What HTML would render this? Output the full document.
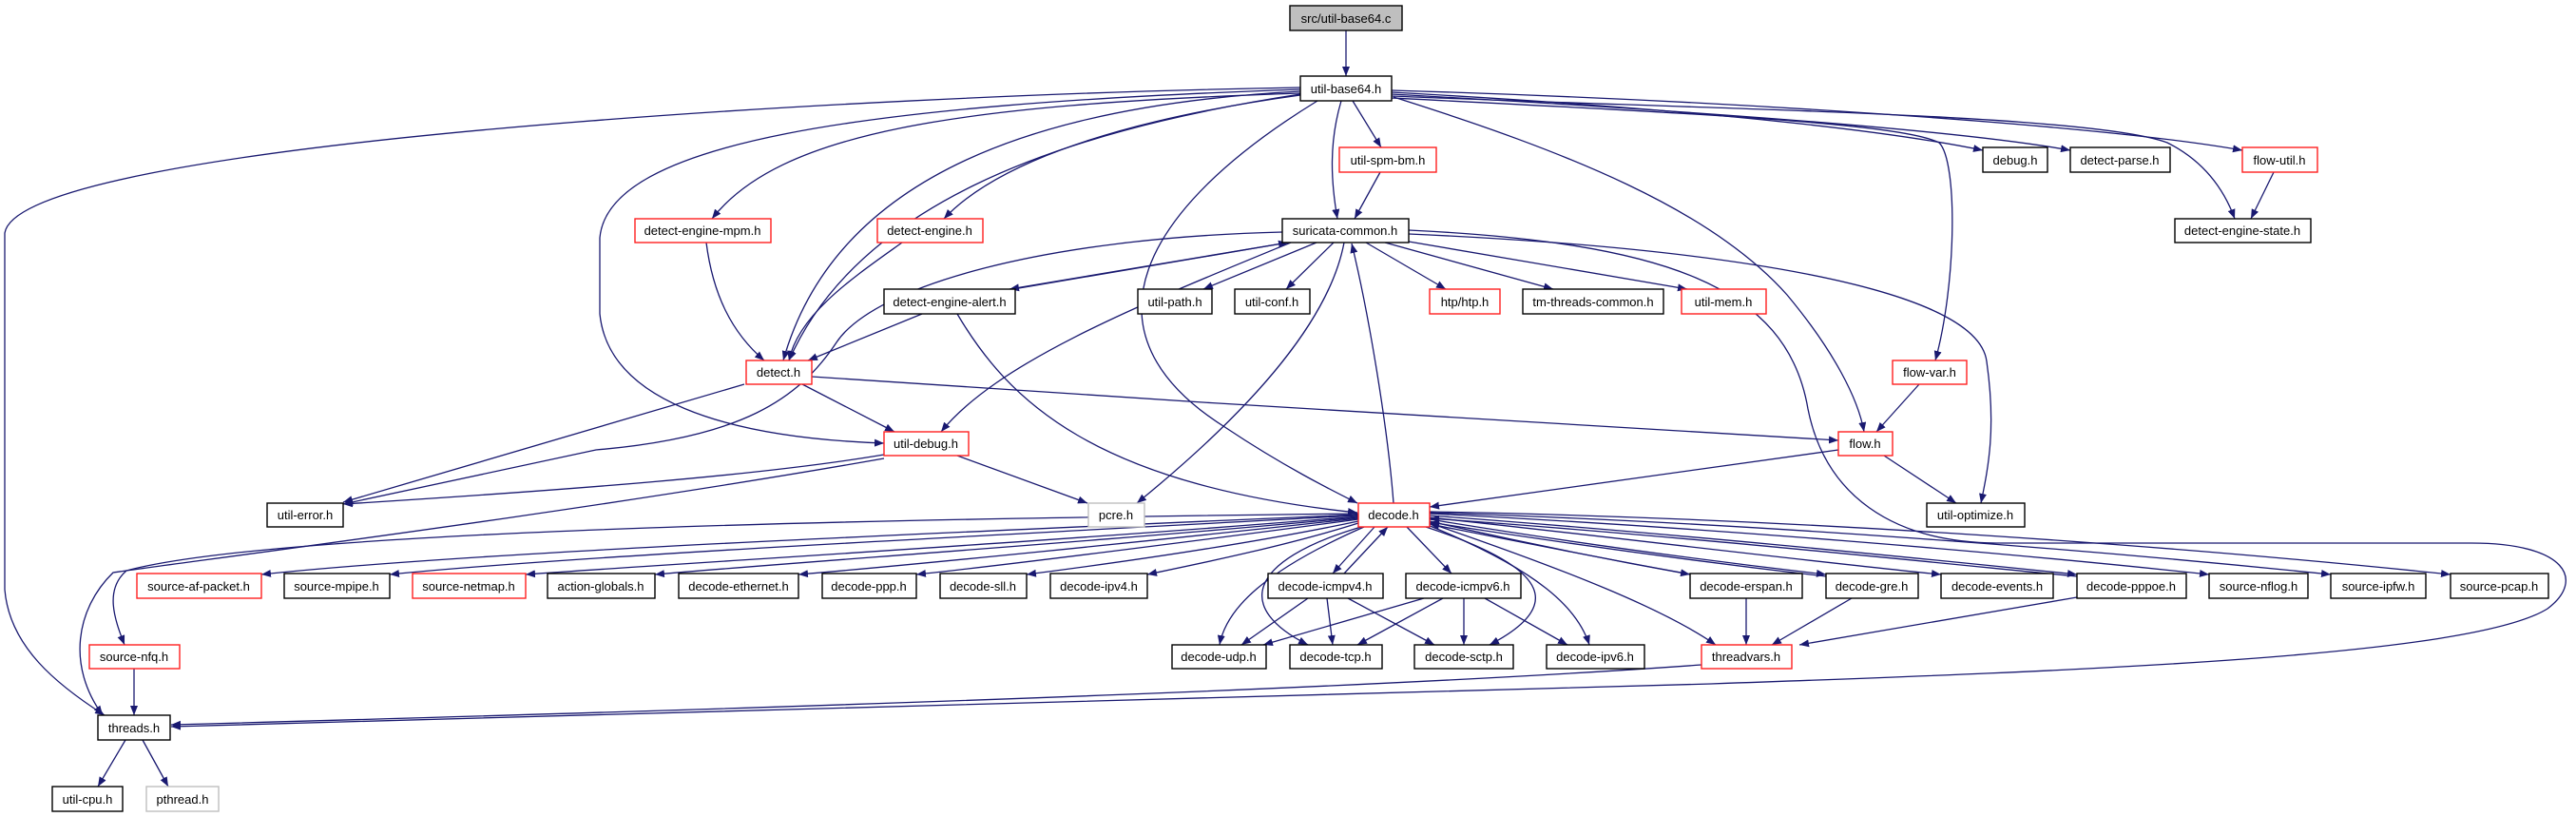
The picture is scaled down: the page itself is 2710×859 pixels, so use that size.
<!DOCTYPE html>
<html><head><meta charset="utf-8"><style>
html,body{margin:0;padding:0;background:#fff;}
svg{display:block;}
text{font-family:"Liberation Sans",sans-serif;font-size:13px;fill:#000;text-anchor:middle;}
.e{fill:none;stroke:#191970;stroke-width:1.3;marker-end:url(#a);}
.n{fill:#fff;stroke:#000;stroke-width:1.4;}
.r{fill:#fff;stroke:#ff2020;stroke-width:1.4;}
.g{fill:#fff;stroke:#bfbfbf;stroke-width:1.4;}
</style></head><body>
<svg width="2710" height="859" viewBox="0 0 2710 859" xmlns="http://www.w3.org/2000/svg">
<defs><marker id="a" markerWidth="11" markerHeight="8" refX="10" refY="4" orient="auto" markerUnits="userSpaceOnUse"><path d="M0,0 L10,4 L0,8 z" fill="#191970"/></marker></defs>
<g>
<path class="e" d="M1416,32 L1416,80"/>
<path class="e" d="M1423,106 L1453,155"/>
<path class="e" d="M1452,181 L1425,230"/>
<path class="e" d="M1411,106 C1398,150 1400,190 1407,230"/>
<path class="e" d="M1386,106 C1200,220 1130,350 1290,450 C1350,490 1400,515 1428,529"/>
<path class="e" d="M1368,100 C1150,130 1040,180 993,230"/>
<path class="e" d="M1368,98 C1000,110 820,140 749,230"/>
<path class="e" d="M1368,96 C1100,110 880,180 824,379"/>
<path class="e" d="M1368,99 C1100,140 900,220 830,379"/>
<path class="e" d="M1368,94 C900,110 640,150 631,250 L631,330 C640,420 760,460 930,466"/>
<path class="e" d="M1368,92 C900,100 20,150 5,245 L5,620 C10,680 60,720 110,752"/>
<path class="e" d="M1464,97 C1700,110 1950,130 2086,158"/>
<path class="e" d="M1464,99 C1750,115 2050,135 2178,158"/>
<path class="e" d="M1464,95 C1800,105 2200,130 2359,158"/>
<path class="e" d="M1464,101 C1800,115 2200,120 2280,150 C2320,170 2340,200 2351,230"/>
<path class="e" d="M1464,103 C1800,120 2000,130 2040,150 C2060,170 2058,300 2036,379"/>
<path class="e" d="M1466,102 C1650,160 1800,220 1880,310 C1930,370 1955,420 1961,454"/>
<path class="e" d="M2392,181 L2368,230"/>
<path class="e" d="M743,255 C750,310 770,350 804,379"/>
<path class="e" d="M949,255 C900,290 840,330 830,379"/>
<path class="e" d="M970,330 L850,379"/>
<path class="e" d="M1355,255 L1062,304"/>
<path class="e" d="M1066,304 L1355,255"/>
<path class="e" d="M1385,255 L1266,304"/>
<path class="e" d="M1403,255 L1353,304"/>
<path class="e" d="M1437,255 L1521,304"/>
<path class="e" d="M1457,255 L1634,304"/>
<path class="e" d="M1482,254 L1775,304"/>
<path class="e" d="M1349,244 C1100,250 920,300 880,360 C840,420 780,460 627,473 L361,530"/>
<path class="e" d="M1358,255 C1200,320 1050,380 990,454"/>
<path class="e" d="M1414,255 C1400,330 1330,420 1196,529"/>
<path class="e" d="M1482,246 C1800,260 2080,300 2090,380 C2100,450 2092,490 2084,529"/>
<path class="e" d="M1482,242 C1750,255 1880,300 1902,430 C1920,520 1990,570 2100,571 L2600,571 C2700,571 2720,610 2680,640 C2600,690 2200,705 1800,719 L180,764"/>
<path class="e" d="M1466,529 C1460,450 1440,330 1422,256"/>
<path class="e" d="M1007,330 C1060,420 1150,510 1428,539"/>
<path class="e" d="M854,396 C1200,420 1700,450 1934,463"/>
<path class="e" d="M844,404 L941,454"/>
<path class="e" d="M783,404 L361,528"/>
<path class="e" d="M930,478 C800,500 600,515 361,530"/>
<path class="e" d="M1007,479 L1144,529"/>
<path class="e" d="M930,482 C600,540 200,590 119,602 C80,640 70,700 108,752"/>
<path class="e" d="M2019,404 L1974,454"/>
<path class="e" d="M1982,479 L2058,529"/>
<path class="e" d="M1934,473 L1504,533"/>
<path class="e" d="M1429,541 C1000,560 500,580 275,604"/>
<path class="e" d="M1429,542 C1000,565 600,585 410,604"/>
<path class="e" d="M1429,543 C1100,570 750,590 553,604"/>
<path class="e" d="M1429,544 C1150,570 850,590 689,604"/>
<path class="e" d="M1429,545 C1200,570 950,595 840,604"/>
<path class="e" d="M1429,546 C1250,570 1050,595 964,604"/>
<path class="e" d="M1429,548 C1300,575 1150,595 1080,604"/>
<path class="e" d="M1429,550 C1350,575 1250,595 1207,604"/>
<path class="e" d="M1429,540 C1000,545 300,555 133,600 C110,620 120,650 131,678"/>
<path class="e" d="M1446,554 L1402,603"/>
<path class="e" d="M1414,603 L1460,554"/>
<path class="e" d="M1480,554 L1527,603"/>
<path class="e" d="M1435,554 C1330,600 1290,640 1283,678"/>
<path class="e" d="M1432,554 C1310,590 1300,640 1376,678"/>
<path class="e" d="M1500,554 C1640,600 1640,640 1567,678"/>
<path class="e" d="M1502,552 C1620,600 1660,640 1672,678"/>
<path class="e" d="M1504,550 C1650,600 1750,640 1805,678"/>
<path class="e" d="M1504,548 C1600,570 1700,590 1778,604"/>
<path class="e" d="M1780,604 C1700,590 1600,570 1504,551"/>
<path class="e" d="M1504,546 C1650,570 1800,590 1921,604"/>
<path class="e" d="M1921,606 C1800,592 1650,572 1504,549"/>
<path class="e" d="M1504,544 C1700,565 1900,590 2042,604"/>
<path class="e" d="M1504,542 C1750,560 2000,585 2185,604"/>
<path class="e" d="M2185,606 C2000,588 1750,562 1504,545"/>
<path class="e" d="M1504,540 C1800,555 2100,580 2324,604"/>
<path class="e" d="M1504,539 C1850,550 2200,578 2452,604"/>
<path class="e" d="M1504,538 C1900,545 2300,575 2578,604"/>
<path class="e" d="M1376,629 L1306,678"/>
<path class="e" d="M1396,629 L1402,678"/>
<path class="e" d="M1418,629 L1509,678"/>
<path class="e" d="M1498,629 L1329,678"/>
<path class="e" d="M1518,629 L1428,678"/>
<path class="e" d="M1540,629 L1540,678"/>
<path class="e" d="M1562,629 L1649,678"/>
<path class="e" d="M1837,629 L1837,678"/>
<path class="e" d="M1948,629 L1864,678"/>
<path class="e" d="M2185,628 L1893,678"/>
<path class="e" d="M1790,699 C1500,720 1000,740 180,762"/>
<path class="e" d="M141,703 L141,752"/>
<path class="e" d="M132,778 L103,827"/>
<path class="e" d="M150,778 L177,827"/>
</g>
<g>
<rect x="1357" y="6" width="118" height="26" fill="#bfbfbf" stroke="#000" stroke-width="1.4"/><text x="1416" y="24">src/util-base64.c</text>
<rect class="n" x="1368" y="80" width="96" height="26"/><text x="1416" y="98">util-base64.h</text>
<rect class="r" x="1409" y="155" width="102" height="26"/><text x="1460" y="173">util-spm-bm.h</text>
<rect class="n" x="2086" y="155" width="68" height="26"/><text x="2120" y="173">debug.h</text>
<rect class="n" x="2178" y="155" width="105" height="26"/><text x="2230" y="173">detect-parse.h</text>
<rect class="r" x="2359" y="155" width="79" height="26"/><text x="2398" y="173">flow-util.h</text>
<rect class="r" x="668" y="230" width="143" height="25"/><text x="739" y="247">detect-engine-mpm.h</text>
<rect class="r" x="923" y="230" width="111" height="25"/><text x="978" y="247">detect-engine.h</text>
<rect class="n" x="1349" y="230" width="133" height="25"/><text x="1415" y="247">suricata-common.h</text>
<rect class="n" x="2288" y="230" width="143" height="25"/><text x="2359" y="247">detect-engine-state.h</text>
<rect class="n" x="930" y="304" width="138" height="26"/><text x="999" y="322">detect-engine-alert.h</text>
<rect class="n" x="1197" y="304" width="78" height="26"/><text x="1236" y="322">util-path.h</text>
<rect class="n" x="1299" y="304" width="79" height="26"/><text x="1338" y="322">util-conf.h</text>
<rect class="r" x="1504" y="304" width="74" height="26"/><text x="1541" y="322">htp/htp.h</text>
<rect class="n" x="1602" y="304" width="148" height="26"/><text x="1676" y="322">tm-threads-common.h</text>
<rect class="r" x="1769" y="304" width="89" height="26"/><text x="1813" y="322">util-mem.h</text>
<rect class="r" x="785" y="379" width="69" height="25"/><text x="819" y="396">detect.h</text>
<rect class="r" x="1991" y="379" width="78" height="25"/><text x="2030" y="396">flow-var.h</text>
<rect class="r" x="930" y="454" width="89" height="25"/><text x="974" y="471">util-debug.h</text>
<rect class="r" x="1934" y="454" width="57" height="25"/><text x="1962" y="471">flow.h</text>
<rect class="n" x="281" y="529" width="80" height="25"/><text x="321" y="546">util-error.h</text>
<rect class="g" x="1145" y="529" width="59" height="25"/><text x="1174" y="546">pcre.h</text>
<rect class="r" x="1429" y="529" width="75" height="25"/><text x="1466" y="546">decode.h</text>
<rect class="n" x="2027" y="529" width="103" height="25"/><text x="2078" y="546">util-optimize.h</text>
<rect class="r" x="144" y="603" width="131" height="26"/><text x="209" y="621">source-af-packet.h</text>
<rect class="n" x="299" y="603" width="111" height="26"/><text x="354" y="621">source-mpipe.h</text>
<rect class="r" x="434" y="603" width="119" height="26"/><text x="493" y="621">source-netmap.h</text>
<rect class="n" x="576" y="603" width="113" height="26"/><text x="632" y="621">action-globals.h</text>
<rect class="n" x="714" y="603" width="126" height="26"/><text x="777" y="621">decode-ethernet.h</text>
<rect class="n" x="865" y="603" width="99" height="26"/><text x="914" y="621">decode-ppp.h</text>
<rect class="n" x="989" y="603" width="91" height="26"/><text x="1034" y="621">decode-sll.h</text>
<rect class="n" x="1105" y="603" width="102" height="26"/><text x="1156" y="621">decode-ipv4.h</text>
<rect class="n" x="1334" y="603" width="121" height="26"/><text x="1394" y="621">decode-icmpv4.h</text>
<rect class="n" x="1479" y="603" width="121" height="26"/><text x="1539" y="621">decode-icmpv6.h</text>
<rect class="n" x="1778" y="603" width="118" height="26"/><text x="1837" y="621">decode-erspan.h</text>
<rect class="n" x="1921" y="603" width="97" height="26"/><text x="1969" y="621">decode-gre.h</text>
<rect class="n" x="2042" y="603" width="118" height="26"/><text x="2101" y="621">decode-events.h</text>
<rect class="n" x="2185" y="603" width="115" height="26"/><text x="2242" y="621">decode-pppoe.h</text>
<rect class="n" x="2324" y="603" width="104" height="26"/><text x="2376" y="621">source-nflog.h</text>
<rect class="n" x="2452" y="603" width="100" height="26"/><text x="2502" y="621">source-ipfw.h</text>
<rect class="n" x="2578" y="603" width="103" height="26"/><text x="2629" y="621">source-pcap.h</text>
<rect class="r" x="94" y="678" width="95" height="25"/><text x="141" y="695">source-nfq.h</text>
<rect class="n" x="1233" y="678" width="99" height="25"/><text x="1282" y="695">decode-udp.h</text>
<rect class="n" x="1357" y="678" width="97" height="25"/><text x="1405" y="695">decode-tcp.h</text>
<rect class="n" x="1488" y="678" width="104" height="25"/><text x="1540" y="695">decode-sctp.h</text>
<rect class="n" x="1627" y="678" width="103" height="25"/><text x="1678" y="695">decode-ipv6.h</text>
<rect class="r" x="1790" y="678" width="95" height="25"/><text x="1837" y="695">threadvars.h</text>
<rect class="n" x="103" y="752" width="76" height="26"/><text x="141" y="770">threads.h</text>
<rect class="n" x="55" y="827" width="74" height="26"/><text x="92" y="845">util-cpu.h</text>
<rect class="g" x="154" y="827" width="76" height="26"/><text x="192" y="845">pthread.h</text>
</g>
</svg>
</body></html>
